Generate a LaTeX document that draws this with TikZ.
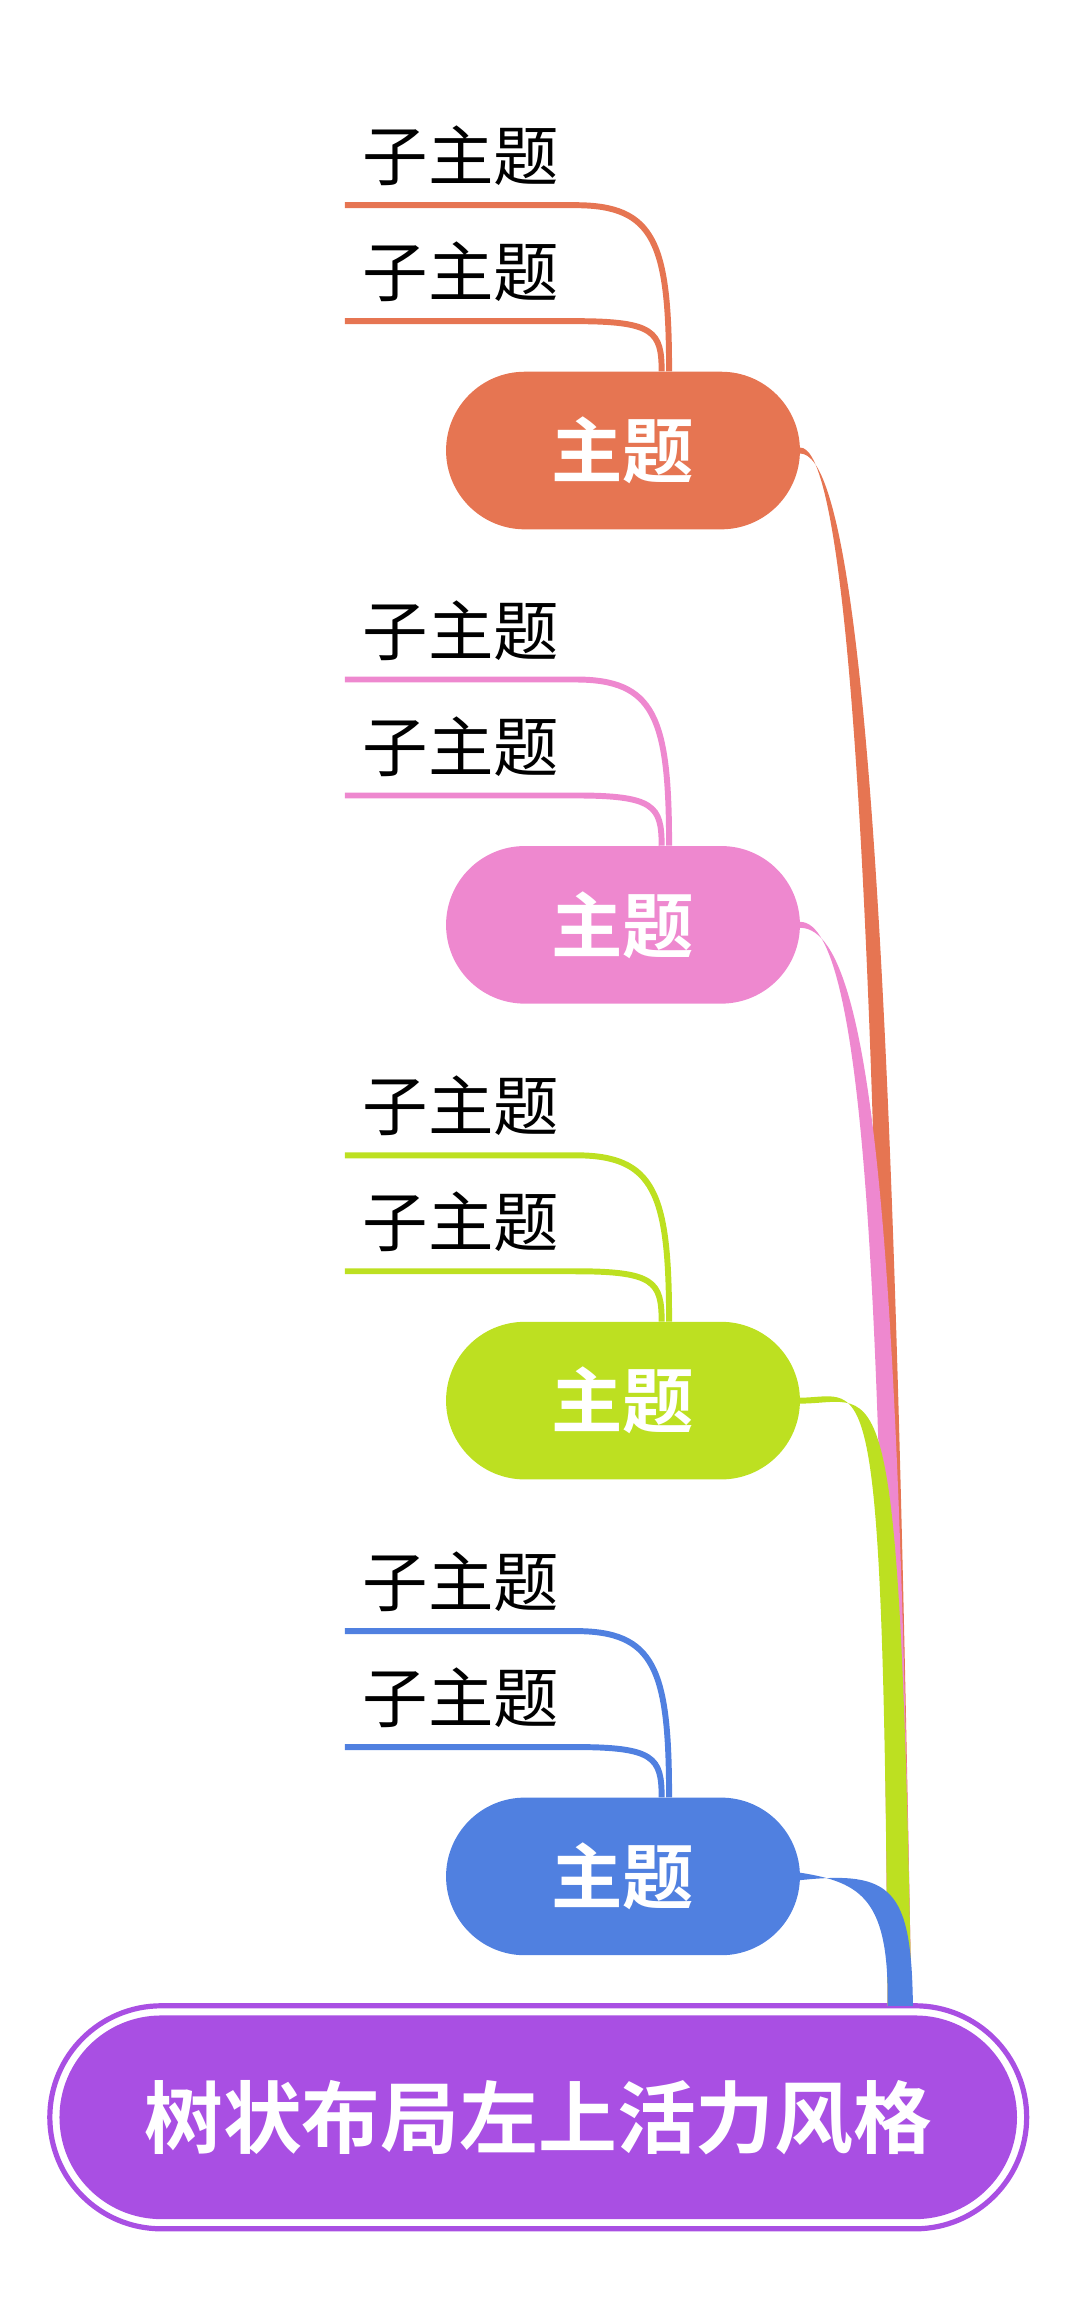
\documentclass[tikz,border=0pt]{standalone}
\usepackage{fontspec}
\newfontfamily\cjk{Noto Sans CJK SC}
\newfontfamily\cjkb{Noto Sans CJK SC Bold}
\definecolor{corg}{HTML}{E67552}
\definecolor{cpink}{HTML}{EE88CF}
\definecolor{clime}{HTML}{BDE021}
\definecolor{cblue}{HTML}{5080E0}
\definecolor{cpur}{HTML}{A94FE3}
\begin{document}
\begin{tikzpicture}[x=1pt,y=-1pt,
  topic/.style={rounded rectangle, fill=#1, minimum width=238pt, minimum height=106pt, text=white, font=\cjkb\fontsize{48}{48}\selectfont, inner sep=0pt},
  subt/.style={font=\cjk\fontsize{44}{44}\selectfont, inner sep=0pt, anchor=center},
  sline/.style={line width=4pt, draw=#1}]
\usetikzlibrary{shapes.misc}
\useasboundingbox (0,0) rectangle (723,1559);
% root
\node[rounded rectangle, draw=cpur, line width=3.5pt, minimum width=657pt, minimum height=150pt, inner sep=0pt] (rootout) at (362,1424) {};
\node[rounded rectangle, fill=cpur, minimum width=644pt, minimum height=137pt, inner sep=0pt, text=white, font=\cjkb\fontsize{53}{53}\selectfont] (root) at (362,1424) {树状布局左上活力风格};
\foreach \n/\c/\y in {1/corg/303, 2/cpink/622, 3/clime/942, 4/cblue/1262}{
  \node[topic=\c] (t\n) at (419,\y) {主题};
  \coordinate (s\n a) at (232,\y-165);
  \coordinate (s\n b) at (387,\y-165);
  \coordinate (s\n c) at (232,\y-87);
  \coordinate (s\n d) at (387,\y-87);
  \node[subt] (l\n a) at (310,\y-198) {子主题};
  \node[subt] (l\n b) at (310,\y-120) {子主题};
  \draw[sline=\c] (s\n a) -- (s\n b) .. controls (440,\y-165) and (450,\y-140) .. ([xshift=31pt]t\n.north);
  \draw[sline=\c] (s\n c) -- (s\n d) .. controls (440,\y-87) and (445,\y-80) .. ([xshift=26pt]t\n.north);
}
% main connectors (tapered)
\foreach \n/\c in {1/corg,2/cpink,3/clime}{
  \fill[\c] ([yshift=-2pt]t\n.east) .. controls +(55,0) and (605,900) .. (613,1349)
     -- (597,1349) .. controls (594,900) and ([xshift=45pt,yshift=2pt]t\n.east) .. ([yshift=2pt]t\n.east) -- cycle;
}
\fill[cblue] ([yshift=-2.5pt]t4.east) .. controls (600,1258) and (613,1270) .. (614,1349)
     -- (597,1349) .. controls (598,1278) and (580,1266) .. ([yshift=2.5pt]t4.east) -- cycle;
\end{tikzpicture}
\end{document}
